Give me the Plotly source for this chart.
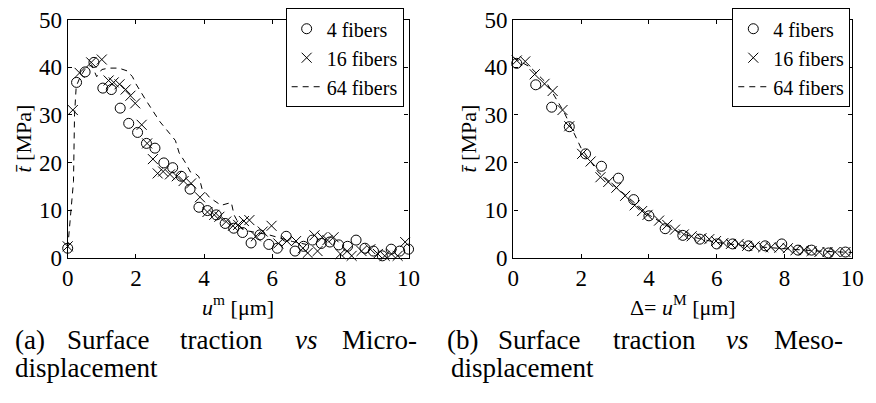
import plotly.graph_objects as go

# ---------------- data: (a) micro-displacement ----------------
a4_x = [0.0, 0.26, 0.51, 0.77, 1.03, 1.28, 1.54, 1.79, 2.05, 2.31, 2.56, 2.82, 3.08, 3.33,
        3.59, 3.85, 4.10, 4.36, 4.62, 4.87, 5.13, 5.38, 5.64, 5.90, 6.15, 6.41, 6.67, 6.92,
        7.18, 7.44, 7.69, 7.95, 8.21, 8.46, 8.72, 8.97, 9.23, 9.49, 9.74, 10.0]
a4_y = [2.0, 36.8, 39.0, 41.0, 35.6, 35.3, 31.4, 28.2, 26.3, 24.0, 23.0, 19.9, 18.9, 17.1,
        14.4, 10.6, 9.9, 9.0, 7.2, 6.2, 5.3, 3.1, 4.8, 2.8, 2.0, 4.5, 1.4, 2.4,
        3.7, 3.0, 3.3, 2.7, 2.4, 3.7, 2.0, 1.4, 0.4, 1.8, 1.4, 1.8]

a16_x = [0.0, 0.15, 0.35, 0.69, 1.0, 1.2, 1.35, 1.52, 1.7, 1.84, 1.98, 2.17, 2.33, 2.5,
         2.64, 2.8, 3.0, 3.2, 3.4, 3.62, 3.88, 4.1, 4.3, 4.45, 4.65, 4.85, 5.0, 5.17,
         5.33, 5.52, 5.72, 5.98, 6.18, 6.43, 6.7, 6.9, 7.04, 7.24, 7.33, 7.47, 7.62,
         7.8, 8.0, 8.2, 8.33, 8.62, 8.88, 9.1, 9.3, 9.5, 9.68, 9.9]
a16_y = [2.4, 31.0, 38.8, 41.0, 41.6, 37.2, 36.8, 36.4, 35.3, 34.0, 32.4, 27.9, 24.0, 20.7,
         17.7, 18.1, 17.5, 17.1, 16.1, 15.6, 12.7, 9.6, 9.0, 8.6, 7.6, 6.7, 6.9, 7.7,
         7.9, 4.5, 5.5, 6.7, 3.0, 3.5, 3.5, 2.0, 1.0, 4.7, 1.4, 4.3, 3.7,
         4.3, 0.8, 1.4, 0.4, 1.4, 1.8, 0.8, 0.4, 0.8, 0.4, 3.3]

a64_x = [0.0, 0.1, 0.17, 0.2, 0.25, 0.37, 0.5, 0.7, 0.85, 1.0, 1.2, 1.5, 1.75, 1.9, 2.0,
         2.3, 2.7, 3.0, 3.16, 3.27, 3.45, 3.6, 3.74, 3.85, 3.94, 4.17, 4.3, 4.5, 4.8,
         4.88, 5.08, 5.3, 5.6, 5.86, 6.2, 6.6, 7.0]
a64_y = [2.0, 10.0, 16.0, 30.0, 36.0, 38.0, 39.5, 40.5, 38.0, 39.5, 39.8, 39.8, 39.2, 38.0, 36.5,
         33.0, 28.6, 26.0, 24.6, 22.0, 20.0, 18.0, 17.7, 17.0, 14.5, 12.6, 12.0, 11.0, 11.6,
         9.0, 6.3, 5.6, 5.2, 4.9, 4.2, 3.4, 2.8]

# ---------------- data: (b) meso-displacement ----------------
b4_x = [0.1, 0.66, 1.13, 1.65, 2.13, 2.6, 3.1, 3.55, 4.0, 4.48, 5.0, 5.5, 6.0, 6.47,
        6.94, 7.43, 7.92, 8.4, 8.8, 9.3, 9.8]
b4_y = [40.8, 36.3, 31.6, 27.5, 21.8, 19.2, 16.7, 12.2, 8.8, 6.1, 4.7, 3.9, 2.9, 2.9,
        2.5, 2.5, 2.9, 1.6, 1.6, 1.0, 1.2]

b16_x = [0.1, 0.35, 0.63, 0.92, 1.16, 1.45, 1.65, 2.03, 2.28, 2.57, 2.8, 3.04, 3.3, 3.58,
         3.8, 3.96, 4.3, 4.54, 4.77, 5.03, 5.26, 5.55, 5.78, 5.98, 6.2, 6.42, 6.65, 6.9,
         7.12, 7.37, 7.6, 7.85, 8.1, 8.33, 8.57, 8.8, 9.03, 9.27, 9.5, 9.8]
b16_y = [41.4, 41.2, 38.5, 36.5, 35.0, 31.0, 27.6, 21.8, 20.2, 16.9, 15.9, 14.7, 13.0, 11.0,
         9.8, 9.0, 7.8, 6.9, 5.9, 4.9, 4.5, 4.1, 3.9, 3.5, 3.1, 2.9, 2.9, 2.5,
         2.4, 2.2, 2.2, 2.1, 2.0, 1.6, 1.6, 1.4, 1.2, 1.2, 1.2, 1.2]

b64_x = [0.0, 0.5, 1.0, 1.5, 1.8, 2.0, 2.5, 3.0, 3.5, 4.0, 4.5, 5.0, 5.5, 6.0, 7.0, 8.0, 9.0, 10.0]
b64_y = [42.0, 40.0, 36.5, 30.5, 26.0, 23.0, 18.0, 15.0, 12.0, 9.0, 6.8, 5.0, 4.0, 3.2, 2.4, 1.9, 1.4, 1.1]

x_ticks = [0, 2, 4, 6, 8, 10]
y_ticks = [0, 10, 20, 30, 40, 50]
series_names = ["4 fibers", "16 fibers", "64 fibers"]

FONT = "Liberation Serif"
W, H = 876, 403

fig = go.Figure()


def add_panel(xs4, ys4, xs16, ys16, xs64, ys64, xa, ya, legend):
    fig.add_trace(go.Scatter(x=xs4, y=ys4, mode="markers", name=series_names[0],
                             xaxis=xa, yaxis=ya, legend=legend, cliponaxis=False,
                             marker=dict(symbol="circle-open", size=10, color="black")))
    fig.add_trace(go.Scatter(x=xs16, y=ys16, mode="markers", name=series_names[1],
                             xaxis=xa, yaxis=ya, legend=legend, cliponaxis=False,
                             marker=dict(symbol="x-thin-open", size=10, color="black",
                                         line=dict(width=1, color="black"))))
    fig.add_trace(go.Scatter(x=xs64, y=ys64, mode="lines", name=series_names[2],
                             xaxis=xa, yaxis=ya, legend=legend,
                             line=dict(color="black", width=1, dash="6px,5px")))


add_panel(a4_x, a4_y, a16_x, a16_y, a64_x, a64_y, "x", "y", "legend")
add_panel(b4_x, b4_y, b16_x, b16_y, b64_x, b64_y, "x2", "y2", "legend2")

ydom = [1 - 262 / H, 1 - 8 / H]


def axis(dom, ticks, rng, anchor, title):
    return dict(domain=dom, range=rng, tickvals=ticks, anchor=anchor,
                showline=True, linecolor="black", linewidth=1.3, mirror="ticks",
                ticks="inside", ticklen=4, tickcolor="black", showgrid=False,
                zeroline=False, ticklabeloverflow="allow",
                tickfont=dict(family=FONT, size=23, color="black"),
                title=dict(text=title, standoff=1,
                           font=dict(family=FONT, size=22, color="black")))


fig.update_layout(
    width=W, height=H, margin=dict(l=0, r=0, t=0, b=0),
    font=dict(family=FONT, size=22, color="black"),
    paper_bgcolor="white", plot_bgcolor="white",
    xaxis=axis([63 / W, 411 / W], x_ticks, [0, 10], "y", "<i>u</i><sup>m</sup> [μm]"),
    yaxis=axis(ydom, y_ticks, [0, 50], "x", "<i>t\u0304</i> [MPa]"),
    xaxis2=axis([518 / W, 864 / W], x_ticks, [0, 10], "y2", "Δ= <i>u</i><sup>M</sup> [μm]"),
    yaxis2=axis(ydom, y_ticks, [0, 50], "x2", "<i>t\u0304</i> [MPa]"),
    legend=dict(x=406 / W, y=1.01, xanchor="right", yanchor="top",
                bgcolor="white", bordercolor="black", borderwidth=1,
                font=dict(family=FONT, size=20, color="black")),
    legend2=dict(x=862 / W, y=1.01, xanchor="right", yanchor="top",
                 bgcolor="white", bordercolor="black", borderwidth=1,
                 font=dict(family=FONT, size=20, color="black")),
)

# captions (justified words, placed by their centres)
CAP = 27
cap_words_a = [("(a)", 24), ("Surface", 104), ("traction", 220), ("<i>vs</i>", 307), ("Micro-", 381)]
cap_words_b = [("(b)", 466), ("Surface", 544), ("traction", 662), ("<i>vs</i>", 747), ("Meso-", 819)]
for words in (cap_words_a, cap_words_b):
    for txt, px in words:
        fig.add_annotation(text=txt, x=px / W, y=1 - 350 / H, xref="paper", yref="paper",
                           xanchor="center", yanchor="middle", showarrow=False,
                           font=dict(family=FONT, size=CAP, color="black"))
for px in (82, 527):
    fig.add_annotation(text="displacement", x=px / W, y=1 - 380 / H, xref="paper", yref="paper",
                       xanchor="center", yanchor="middle", showarrow=False,
                       font=dict(family=FONT, size=CAP, color="black"))

serif_js = (
    "var gd = document.getElementById('{plot_id}');"
    "function fixFonts(){"
    "  gd.querySelectorAll('text').forEach(function(t){"
    "    t.style.fontFamily = \"'Liberation Serif', 'Times New Roman', serif\";"
    "  });"
    "}"
    "fixFonts();"
    "setTimeout(fixFonts, 0);"
    "if (gd.on) { gd.on('plotly_afterplot', fixFonts); }"
)
fig.write_html("out.html", post_script=serif_js)
